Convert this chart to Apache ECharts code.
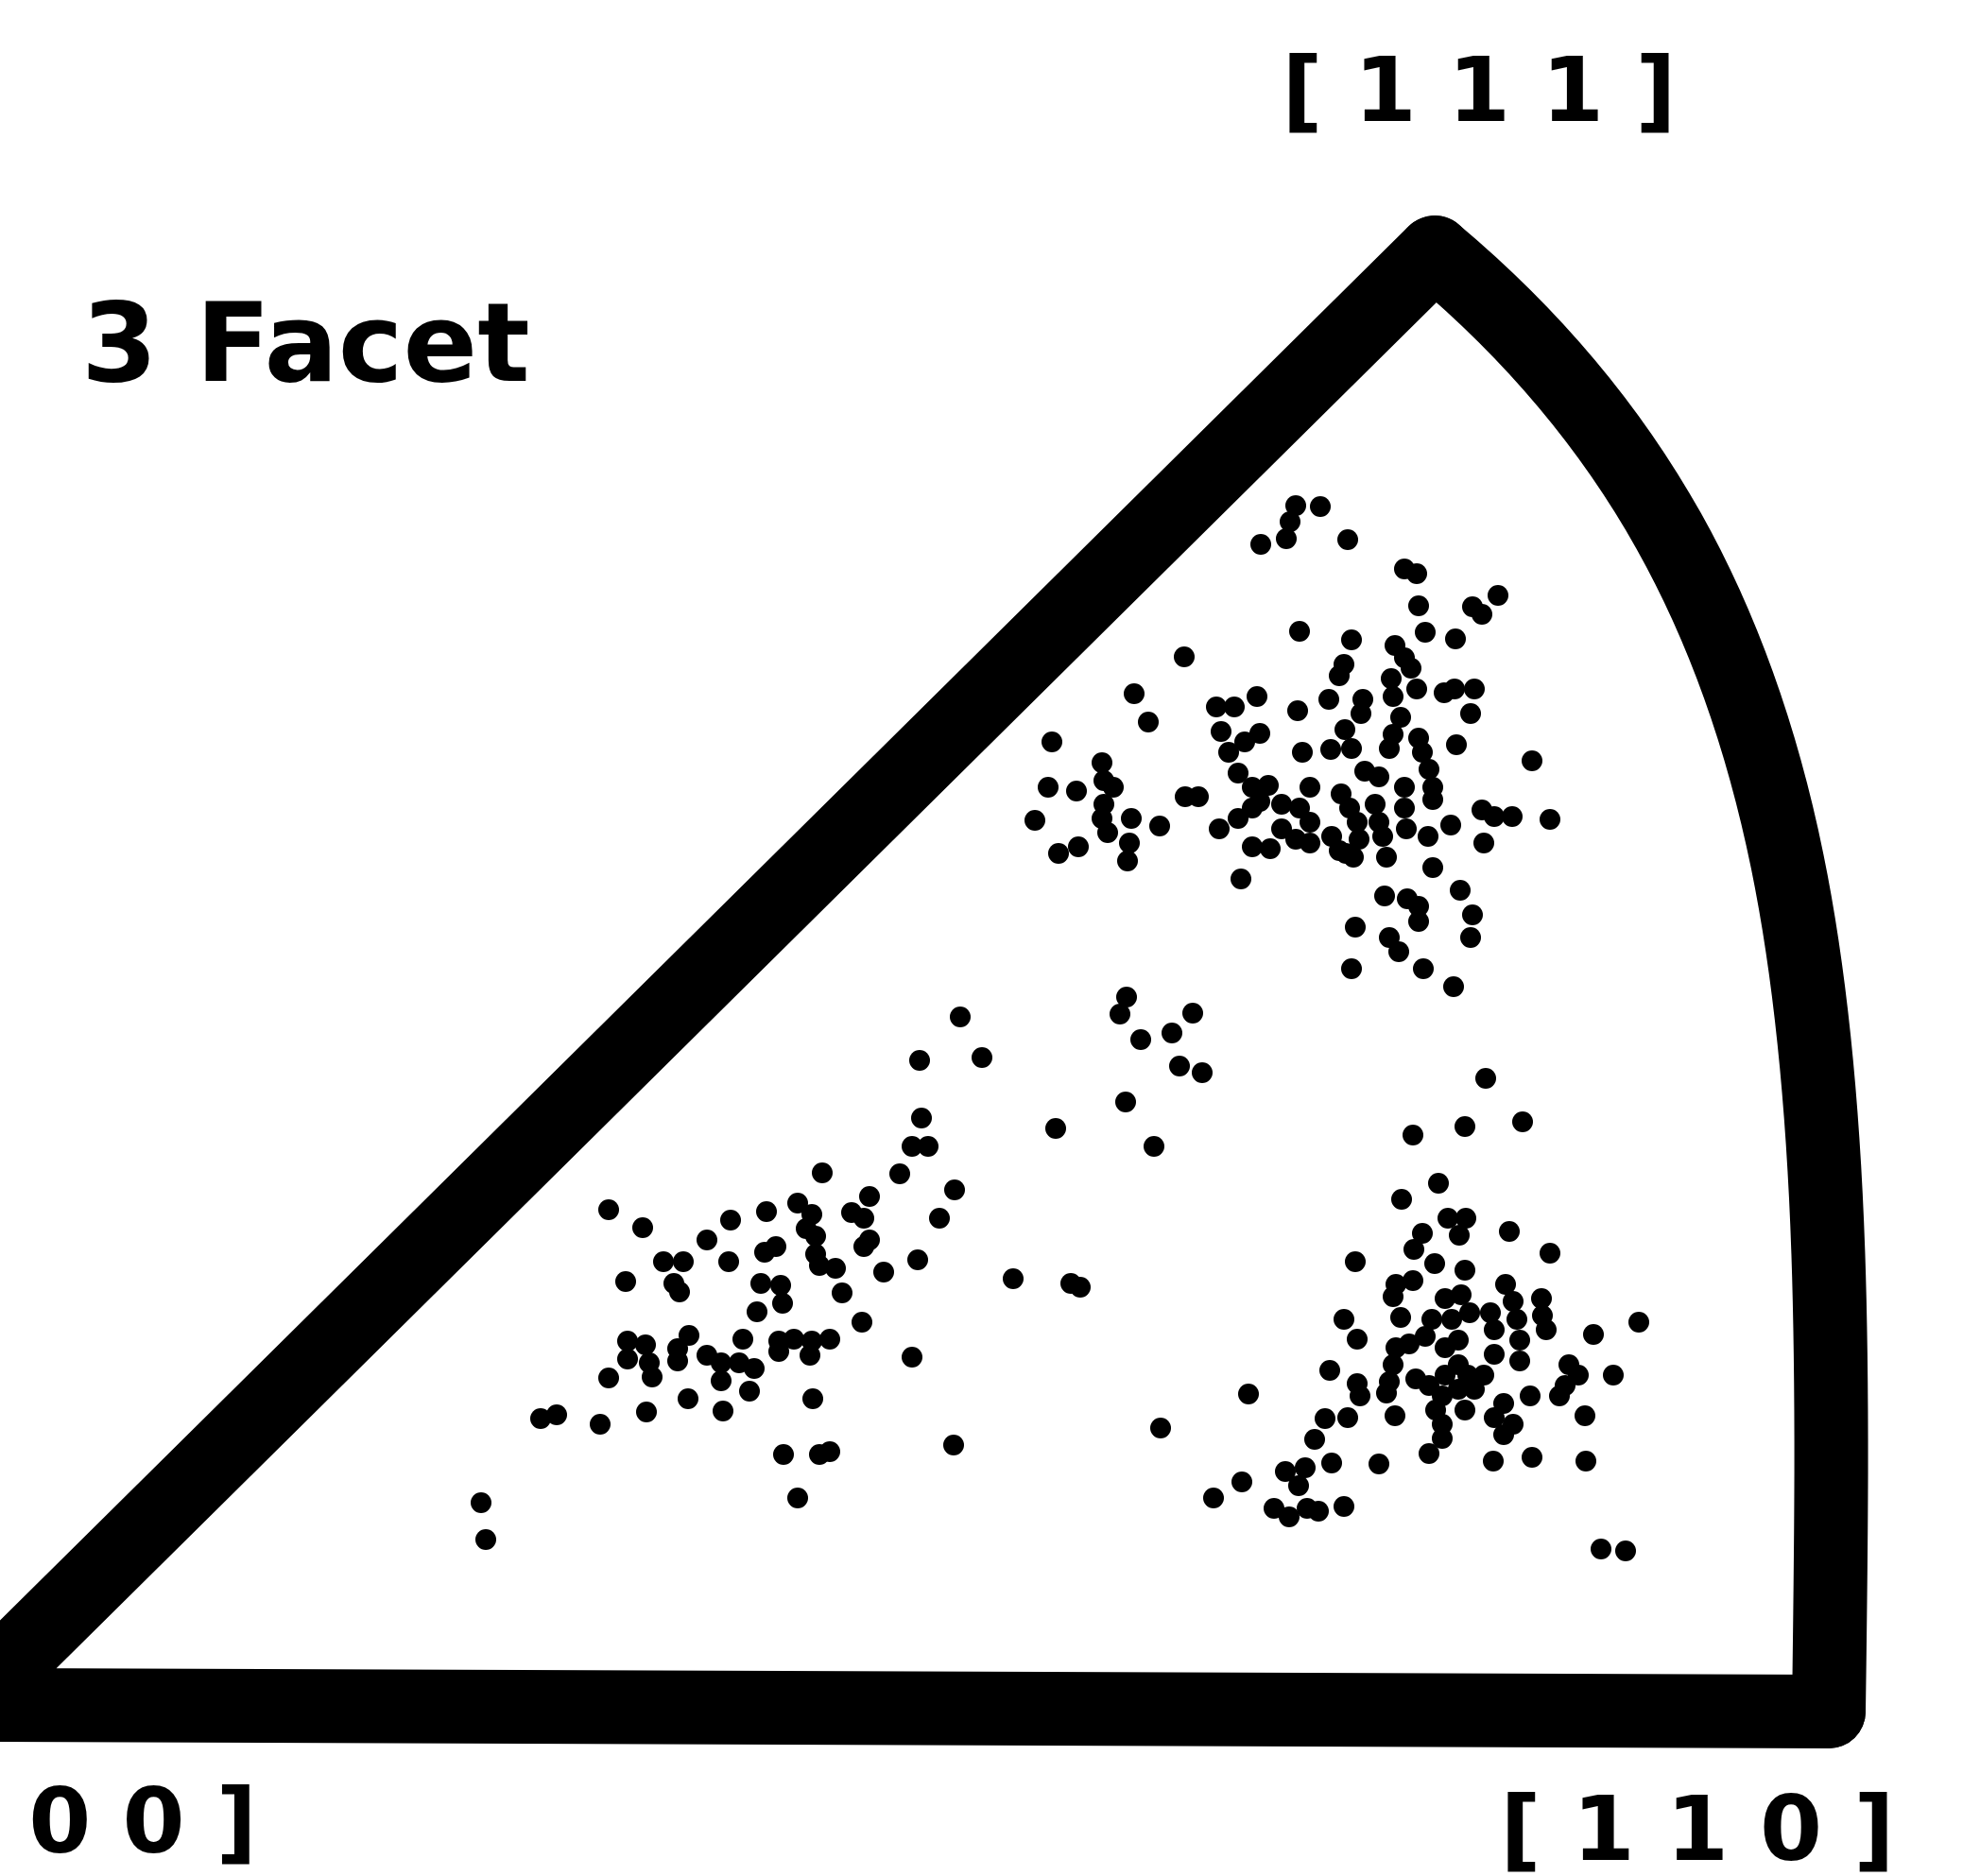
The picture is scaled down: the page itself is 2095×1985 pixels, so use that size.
<!DOCTYPE html>
<html lang="en">
<head>
<meta charset="UTF-8">
<title>3 Facet</title>
<style>
    html, body { margin: 0; padding: 0; background: #fff; }
</style>
</head>
<body>
<div id="chart" style="width: 2095px;height:1985px;"></div>
<script src="https://cdn.jsdelivr.net/npm/echarts@6/dist/echarts.min.js"></script>
<script>
// dot positions, [x, y] in the picture's own units (y grows downward)
var upperDots = [
    [1371,535],[1397,536],[1365,552],[1361,570],[1334,576],[1426,571],[1486,602],[1499,607],[1585,630],[1501,641],
    [1558,642],[1568,650],[1375,668],[1508,669],[1540,676],[1430,677],[1253,695],[1476,683],[1486,696],[1493,707],
    [1422,703],[1417,715],[1200,734],[1330,737],[1287,748],[1306,748],[1373,752],[1406,740],[1442,740],[1440,755],
    [1472,718],[1474,737],[1499,729],[1528,733],[1539,729],[1560,729],[1556,755],[1215,764],[1292,774],[1333,776],
    [1317,785],[1423,772],[1482,759],[1474,777],[1470,792],[1501,781],[1505,796],[1512,814],[1516,833],[1516,846],
    [1113,785],[1541,788],[1621,805],[1378,796],[1408,793],[1430,792],[1300,796],[1166,807],[1168,826],[1178,833],
    [1310,818],[1325,833],[1342,831],[1386,833],[1444,816],[1459,822],[1109,833],[1139,837],[1254,843],[1268,843],
    [1168,851],[1166,866],[1095,868],[1197,866],[1227,874],[1333,848],[1356,851],[1375,855],[1386,870],[1419,840],
    [1428,855],[1436,870],[1438,888],[1424,903],[1455,851],[1459,870],[1463,885],[1467,907],[1486,833],[1486,855],
    [1488,877],[1290,877],[1310,866],[1325,855],[1356,877],[1371,888],[1386,892],[1325,896],[1344,898],[1409,885],
    [1417,900],[1432,907],[1511,885],[1535,873],[1568,857],[1581,864],[1600,864],[1640,867],[1570,892],[1172,881],
    [1195,892],[1120,903],[1141,896],[1193,911],[1313,930],[1516,918],[1465,948],[1489,951],[1501,959],[1501,975],
    [1545,942],[1558,968],[1556,992],[1434,981],[1470,992],[1480,1007],[1430,1025],[1506,1025],[1538,1044]
];
var middleDots = [
    [1192,1055],[1185,1073],[1207,1100],[1262,1072],[1240,1093],[1248,1128],[1272,1135],[1191,1166],[1221,1213],
    [1117,1194],[1016,1076],[973,1122],[1039,1119],[975,1183],[965,1213],[982,1213],[952,1242],[1010,1259],
    [994,1289],[1072,1353],[1133,1358],[1143,1362],[1228,1511]
];
var lowerLeftDots = [
    [870,1241],[644,1280],[680,1299],[920,1266],[901,1283],[914,1289],[811,1282],[844,1273],[859,1285],[853,1300],
    [773,1291],[748,1312],[863,1308],[863,1327],[867,1339],[884,1342],[821,1319],[809,1325],[920,1312],[914,1319],
    [771,1335],[702,1335],[723,1335],[713,1358],[719,1367],[662,1356],[971,1333],[935,1346],[891,1368],[805,1358],
    [826,1360],[828,1379],[801,1388],[912,1399],[664,1419],[683,1423],[664,1438],[687,1442],[690,1457],[644,1458],
    [729,1413],[717,1427],[717,1440],[748,1434],[763,1442],[763,1461],[786,1417],[782,1442],[798,1448],[824,1419],
    [840,1417],[859,1419],[878,1417],[857,1434],[824,1430],[793,1472],[728,1480],[765,1493],[684,1494],[860,1480],
    [965,1436],[572,1501],[589,1497],[635,1507],[829,1539],[867,1539],[878,1536],[1009,1529],[844,1585],[509,1590],
    [514,1629]
];
var lowerRightDots = [
    [1572,1141],[1495,1201],[1550,1192],[1611,1187],[1522,1252],[1483,1269],[1532,1289],[1551,1289],[1544,1307],
    [1505,1305],[1496,1322],[1597,1303],[1640,1326],[1434,1335],[1518,1337],[1550,1344],[1477,1359],[1495,1355],
    [1474,1372],[1482,1394],[1422,1396],[1436,1417],[1593,1359],[1601,1377],[1631,1374],[1632,1392],[1636,1407],
    [1686,1412],[1734,1399],[1529,1374],[1546,1370],[1555,1389],[1515,1396],[1536,1396],[1543,1418],[1529,1426],
    [1508,1414],[1491,1422],[1477,1426],[1474,1444],[1470,1462],[1467,1474],[1498,1459],[1512,1466],[1529,1455],
    [1543,1444],[1553,1455],[1560,1470],[1543,1470],[1526,1477],[1519,1492],[1526,1507],[1526,1522],[1512,1538],
    [1550,1492],[1577,1389],[1581,1407],[1605,1396],[1608,1418],[1608,1440],[1581,1433],[1570,1455],[1591,1485],
    [1581,1500],[1591,1518],[1601,1507],[1619,1477],[1476,1498],[1580,1546],[1660,1444],[1656,1466],[1650,1477],
    [1670,1455],[1707,1455],[1677,1498],[1621,1542],[1678,1546],[1407,1450],[1436,1464],[1439,1477],[1321,1475],
    [1402,1501],[1426,1500],[1391,1523],[1409,1548],[1459,1549],[1314,1568],[1284,1585],[1360,1557],[1381,1553],
    [1374,1572],[1348,1596],[1364,1605],[1383,1596],[1395,1599],[1422,1594],[1694,1639],[1720,1641]
];
var poleLabels = ['[ 1 0 0 ]', '[ 1 1 0 ]', '[ 1 1 1 ]'];
var titleText = '3 Facet';

// triangle outline: [100] corner, [111] corner, arc controls, [110] corner
var frame = [[-35, 1804], [1518, 267], [1947, 627], [1945, 1111], [1935, 1811]];

var chart = echarts.init(document.getElementById('chart'));

var dotSeries = function (data) {
    return {
        type: 'scatter',
        data: data,
        symbol: 'circle',
        symbolSize: 22,
        itemStyle: { color: '#000', opacity: 1 },
        silent: true,
        z: 3
    };
};

var option = {
    backgroundColor: '#fff',
    animation: false,
    grid: { left: 0, right: 0, top: 0, bottom: 0 },
    xAxis: { type: 'value', min: 0, max: 2095, show: false },
    yAxis: { type: 'value', min: 0, max: 1985, inverse: true, show: false },
    graphic: [
        { type: 'text', x: 86, y: 373, style: { text: titleText, font: 'bold 116px "DejaVu Sans"', fill: '#000', textAlign: 'left', textVerticalAlign: 'middle' } },
        { type: 'text', x: 1565, y: 103, style: { text: poleLabels[2], font: 'bold 95px "DejaVu Sans"', fill: '#000', textAlign: 'center', textVerticalAlign: 'middle' } },
        { type: 'text', x: 1796, y: 1943, style: { text: poleLabels[1], font: 'bold 95px "DejaVu Sans"', fill: '#000', textAlign: 'center', textVerticalAlign: 'middle' } },
        { type: 'text', x: 272, y: 1935, style: { text: poleLabels[0], font: 'bold 95px "DejaVu Sans"', fill: '#000', textAlign: 'right', textVerticalAlign: 'middle' } }
    ],
    series: [
        {
            type: 'custom',
            coordinateSystem: 'cartesian2d',
            clip: false,
            silent: true,
            z: 1,
            data: [[0, 0]],
            renderItem: function (params, api) {
                var p = frame.map(function (c) { return api.coord(c); });
                var st = { stroke: '#000', fill: 'none', lineWidth: 78, lineCap: 'round', lineJoin: 'round' };
                return {
                    type: 'group',
                    children: [
                        { type: 'polyline', shape: { points: [p[4], p[0], p[1]] }, style: st },
                        {
                            type: 'bezierCurve',
                            shape: {
                                x1: p[1][0], y1: p[1][1],
                                cpx1: p[2][0], cpy1: p[2][1],
                                cpx2: p[3][0], cpy2: p[3][1],
                                x2: p[4][0], y2: p[4][1]
                            },
                            style: st
                        }
                    ]
                };
            }
        },
        dotSeries(upperDots),
        dotSeries(middleDots),
        dotSeries(lowerLeftDots),
        dotSeries(lowerRightDots)
    ]
};

chart.setOption(option);
</script>
</body>
</html>
